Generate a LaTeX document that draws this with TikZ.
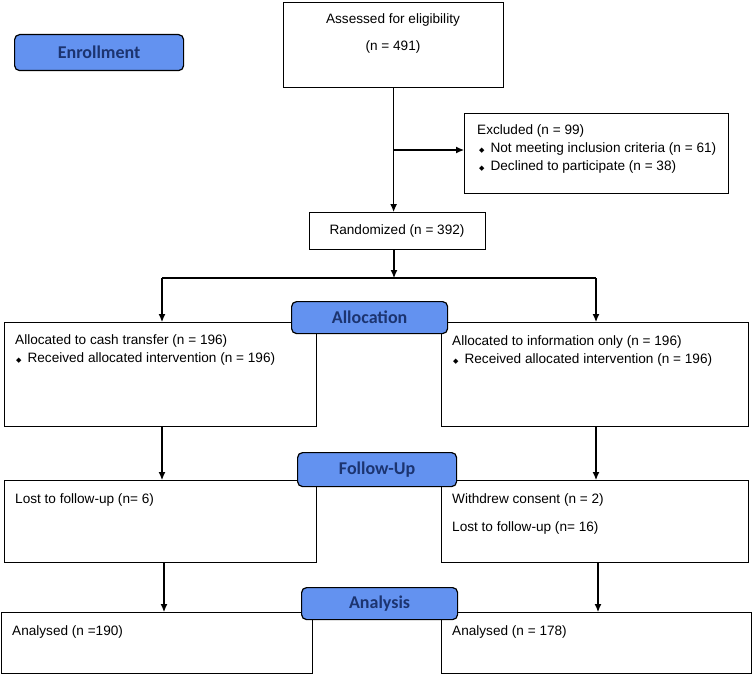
\documentclass[tikz,border=0pt]{standalone}
\usepackage{fontspec}
\setmainfont{Liberation Sans}
\newfontfamily\lblfont{Carlito}
\newfontfamily\dejavu{DejaVu Sans}
\usetikzlibrary{arrows.meta}
\definecolor{lblfill}{RGB}{99,146,240}
\definecolor{lbltext}{RGB}{28,52,112}
\newcommand{\bul}{{\dejavu\fontsize{7}{7}\selectfont ◆}\hspace{6pt}}
\begin{document}
\begin{tikzpicture}[x=1pt,y=-1pt,
  box/.style={draw, line width=1.2pt, rectangle, anchor=north west, inner sep=0pt},
  lbl/.style={draw, line width=1.2pt, fill=lblfill, rounded corners=5pt, anchor=north west, inner sep=0pt,
    font=\lblfont\bfseries\fontsize{18}{20}\selectfont, text=lbltext},
  txt/.style={anchor=west, inner sep=0pt, font=\fontsize{13.6}{16}\selectfont},
  ctxt/.style={anchor=center, inner sep=0pt, font=\fontsize{13.6}{16}\selectfont},
  arr/.style={line width=1.1pt, -{Latex[length=8pt,width=7pt]}},
  ln/.style={line width=1.1pt}]
\useasboundingbox (0,0) rectangle (752,674);

% boxes
\node[box, minimum width=220pt, minimum height=85pt] (assess) at (283,2) {};
\node[box, minimum width=264pt, minimum height=80pt] (excl) at (464,113) {};
\node[box, minimum width=176pt, minimum height=37pt] (rand) at (309,212) {};
\node[box, minimum width=312pt, minimum height=104pt] (allocL) at (4,322) {};
\node[box, minimum width=307pt, minimum height=104pt] (allocR) at (441,322) {};
\node[box, minimum width=312pt, minimum height=82pt] (follL) at (4,480) {};
\node[box, minimum width=307pt, minimum height=82pt] (follR) at (441,480) {};
\node[box, minimum width=311pt, minimum height=61pt] (anaL) at (1,612) {};
\node[box, minimum width=310pt, minimum height=61pt] (anaR) at (441,612) {};

% texts
\node[ctxt] (t1) at (393,20) {Assessed for eligibility};
\node[ctxt] (t2) at (393,47) {(n = 491)};
\node[txt] (t3) at (477,131) {Excluded (n = 99)};
\node[txt] (t4) at (479,149) {\bul Not meeting inclusion criteria (n = 61)};
\node[txt] (t5) at (479,167) {\bul Declined to participate (n = 38)};
\node[ctxt] (t6) at (397,231) {Randomized (n = 392)};
\node[txt] (t7) at (15,341) {Allocated to cash transfer (n = 196)};
\node[txt] (t8) at (16,359) {\bul Received allocated intervention (n = 196)};
\node[txt] (t9) at (452,342) {Allocated to information only (n = 196)};
\node[txt] (t10) at (453,360) {\bul Received allocated intervention (n = 196)};
\node[txt] (t11) at (15,500) {Lost to follow-up (n= 6)};
\node[txt] (t12) at (452,500) {Withdrew consent (n = 2)};
\node[txt] (t13) at (452,528) {Lost to follow-up (n= 16)};
\node[txt] (t14) at (12,632) {Analysed (n =190)};
\node[txt] (t15) at (452,632) {Analysed (n = 178)};

% connectors
\coordinate (br) at (393,150);
\draw[arr] (assess.south) -- (assess.south |- rand.north);
\draw[arr] (br) -- (br -| excl.west);
\coordinate (sc) at (394,278);
\coordinate (sl) at (162,278);
\coordinate (sr) at (596,278);
\draw[arr] (sc |- rand.south) -- (sc);
\draw[ln] (sl) -- (sr);
\draw[arr] (sl) -- (sl |- allocL.north);
\draw[arr] (sr) -- (sr |- allocR.north);
\coordinate (fl) at (162,426);
\coordinate (fr) at (596,426);
\draw[arr] (fl) -- (fl |- follL.north);
\draw[arr] (fr) -- (fr |- follR.north);
\coordinate (al) at (164,562);
\coordinate (ar) at (598,562);
\draw[arr] (al) -- (al |- anaL.north);
\draw[arr] (ar) -- (ar |- anaR.north);

% labels
\node[lbl, minimum width=169pt, minimum height=36pt] (enr) at (14,34) {Enrollment};
\node[lbl, minimum width=156pt, minimum height=32pt] (alloc) at (291,301) {Allocation};
\node[lbl, minimum width=159pt, minimum height=34pt] (foll) at (297,452) {Follow-Up};
\node[lbl, minimum width=156pt, minimum height=32pt] (ana) at (301,587) {Analysis};
\end{tikzpicture}
\end{document}
